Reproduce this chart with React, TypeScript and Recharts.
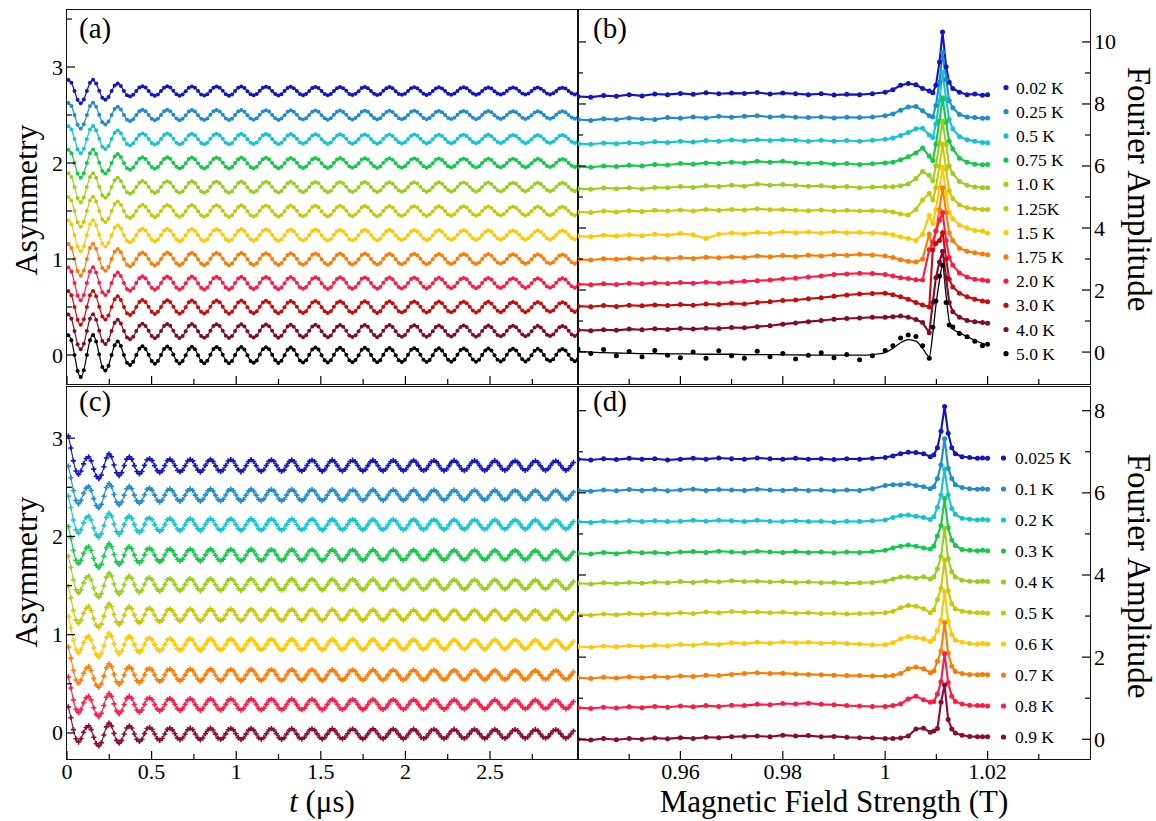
import React from 'react';
import { LineChart, Line, XAxis, YAxis } from 'recharts';

const FONT = '"Liberation Serif", "Times New Roman", Times, serif';
const W = 1156;
const H = 821;

// ---------- data ----------
// time-domain panels: one oscillation shape per panel (read off the 5.0 K / 0.9 K curves),
// each temperature drawn at its own offset and amplitude
const tStartA = 0.008;
const tStepA = 0.01825;
const waveA = [
  2.3, 1.7, 0, -1.84, -2.55, -1.77, 0, 1.7,
  2.33, 1.56, 0.05, -1.38, -1.8, -1.24, 0, 1.13,
  1.55, 1.03, 0, -0.89, -1.15, -0.78, 0, 0.72,
  1.0, 0.71, 0.02, -0.7, -1.0, -0.7, 0, 0.7,
  0.98, 0.72, 0.05, -0.66, -0.97, -0.7, -0.04, 0.68,
  0.96, 0.66, -0.02, -0.7, -0.95, -0.66, 0.03, 0.7,
  0.93, 0.69, 0.04, -0.65, -0.96, -0.7, 0.0, 0.66,
  0.94, 0.64, -0.03, -0.68, -0.9, -0.63, 0.05, 0.67,
  0.9, 0.66, 0.02, -0.62, -0.92, -0.66, -0.02, 0.62,
  0.88, 0.6, 0.03, -0.64, -0.87, -0.6, 0.02, 0.64,
  0.86, 0.63, -0.02, -0.6, -0.88, -0.62, 0.03, 0.6,
  0.85, 0.58, 0.04, -0.62, -0.84, -0.58, -0.03, 0.62,
  0.83, 0.6, 0.0, -0.57, -0.85, -0.6, 0.04, 0.58,
  0.82, 0.56, -0.03, -0.6, -0.8, -0.56, 0.02, 0.6,
  0.79, 0.58, 0.03, -0.55, -0.81, -0.57, -0.02, 0.55,
  0.78, 0.53, 0.0, -0.56, -0.77, -0.53, 0.03, 0.57,
  0.76, 0.56, 0.02, -0.52, -0.78, -0.55, 0.0, 0.53,
  0.75, 0.51, -0.03, -0.54, -0.74, -0.51, 0.02, 0.54,
  0.72, 0.53, 0.03, -0.5, -0.74, -0.52, -0.02, 0.5,
  0.72, 0.49, 0.0, -0.52, -0.7, -0.49, 0.03, 0.52,
  0.7, 0.51, 0.02, -0.48, -0.71, -0.5,
];
const offsetsA = [2.75, 2.5, 2.25, 2.0, 1.75, 1.5, 1.25, 1.0, 0.75, 0.5, 0.25, 0.0];
const ampsA = [0.05, 0.055, 0.058, 0.06, 0.062, 0.064, 0.066, 0.068, 0.07, 0.072, 0.075, 0.09];

const tStartC = 0.008;
const tStepC = 0.015;
const waveC = [
  5.0, 3.0, 0.8, -0.9, -1.5, -0.9, 0.3, 1.2,
  1.5, 0.8, -0.6, -1.8, -2.2, -1.6, -0.2, 1.3,
  2.0, 1.5, 0.1, -1.2, -1.7, -1.2, 0.0, 1.1,
  1.5, 1.1, 0.0, -1.0, -1.4, -1.0, 0.05, 1.0,
  1.2, 0.85, 0.0, -0.85, -1.2, -0.85, 0.0, 0.85,
  1.1, 0.75, 0.03, -0.78, -1.08, -0.76, -0.02, 0.78,
  1.06, 0.8, 0.0, -0.72, -1.1, -0.74, 0.04, 0.74,
  1.08, 0.72, -0.04, -0.77, -1.02, -0.72, 0.02, 0.78,
  1.02, 0.76, 0.03, -0.7, -1.05, -0.75, -0.03, 0.7,
  1.04, 0.7, 0.0, -0.74, -0.98, -0.7, 0.03, 0.74,
  0.98, 0.73, 0.04, -0.68, -1.0, -0.72, 0.0, 0.68,
  1.0, 0.68, -0.03, -0.72, -0.95, -0.66, 0.02, 0.72,
  0.95, 0.7, 0.02, -0.65, -0.97, -0.7, -0.03, 0.66,
  0.97, 0.65, 0.0, -0.7, -0.92, -0.64, 0.03, 0.7,
  0.92, 0.68, 0.03, -0.63, -0.94, -0.67, 0.0, 0.63,
  0.94, 0.63, -0.02, -0.67, -0.9, -0.62, 0.02, 0.67,
  0.9, 0.66, 0.02, -0.6, -0.91, -0.65, -0.02, 0.61,
  0.91, 0.61, 0.0, -0.65, -0.87, -0.6, 0.03, 0.65,
  0.87, 0.64, 0.03, -0.58, -0.88, -0.63, 0.0, 0.59,
  0.88, 0.59, -0.02, -0.62, -0.85, -0.58, 0.02, 0.62,
  0.85, 0.62, 0.02, -0.56, -0.86, -0.6, -0.02, 0.57,
  0.86, 0.57, 0.0, -0.6, -0.82, -0.56, 0.03, 0.6,
  0.82, 0.6, 0.03, -0.55, -0.83, -0.58, 0.0, 0.56,
  0.83, 0.56, -0.02, -0.58, -0.8, -0.55, 0.02, 0.58,
  0.8, 0.58, 0.02, -0.53, -0.81, -0.57, -0.02, 0.54,
];
const offsetsC = [2.72, 2.42, 2.12, 1.81, 1.51, 1.2, 0.9, 0.59, 0.29, -0.01];
const ampsC = [0.06, 0.059, 0.058, 0.058, 0.058, 0.058, 0.057, 0.057, 0.056, 0.055];

// Fourier panels
const fieldB = [
  0.94, 0.9425, 0.945, 0.9475, 0.95, 0.9525, 0.955, 0.9575, 0.96, 0.9625, 0.965, 0.9675,
  0.97, 0.9725, 0.975, 0.9775, 0.98, 0.9825, 0.985, 0.9875, 0.99, 0.9925, 0.995, 0.9975,
  1.0, 1.0015, 1.003, 1.0045, 1.006, 1.0073, 1.0086, 1.0093, 1.0099, 1.0106, 1.0112, 1.0119,
  1.0125, 1.0132, 1.0145, 1.016, 1.0175, 1.019, 1.02,
];
const ampB = [
  [8.24, 8.22, 8.27, 8.25, 8.3, 8.26, 8.32, 8.3, 8.34, 8.31, 8.36, 8.33, 8.35, 8.34, 8.37, 8.32, 8.35, 8.33, 8.3, 8.33, 8.29, 8.31, 8.3, 8.33,
    8.38, 8.46, 8.6, 8.66, 8.62, 8.5, 8.42, 8.36, 8.6, 9.35, 10.32, 9.2, 8.7, 8.5, 8.38, 8.3, 8.32, 8.28, 8.3],
  [7.5, 7.47, 7.52, 7.5, 7.55, 7.52, 7.5, 7.56, 7.54, 7.58, 7.55, 7.6, 7.57, 7.6, 7.62, 7.58, 7.6, 7.57, 7.56, 7.58, 7.55, 7.57, 7.56, 7.58,
    7.62, 7.68, 7.8, 7.9, 7.92, 7.78, 7.62, 7.58, 7.95, 8.7, 9.67, 8.8, 8.1, 7.88, 7.66, 7.58, 7.56, 7.54, 7.55],
  [6.72, 6.7, 6.74, 6.72, 6.75, 6.73, 6.78, 6.76, 6.8, 6.77, 6.82, 6.8, 6.84, 6.81, 6.85, 6.82, 6.85, 6.83, 6.8, 6.83, 6.8, 6.82, 6.8, 6.83,
    6.86, 6.9, 6.98, 7.08, 7.2, 7.22, 7.0, 6.92, 7.35, 8.1, 9.03, 8.15, 7.5, 7.2, 6.95, 6.85, 6.8, 6.76, 6.75],
  [5.98, 5.96, 6.0, 5.98, 6.02, 6.0, 6.05, 6.03, 6.08, 6.06, 6.1, 6.08, 6.12, 6.1, 6.15, 6.12, 6.15, 6.1, 6.08, 6.1, 6.06, 6.08, 6.05, 6.07,
    6.1, 6.12, 6.2, 6.3, 6.42, 6.58, 6.32, 6.18, 6.7, 7.45, 8.2, 7.4, 6.8, 6.55, 6.25, 6.12, 6.06, 6.04, 6.05],
  [5.27, 5.25, 5.29, 5.27, 5.3, 5.26, 5.31, 5.3, 5.34, 5.31, 5.36, 5.34, 5.38, 5.35, 5.42, 5.38, 5.4, 5.37, 5.35, 5.36, 5.32, 5.34, 5.3, 5.32,
    5.33, 5.33, 5.36, 5.42, 5.6, 5.82, 5.7, 5.52, 6.0, 6.75, 7.45, 6.7, 6.0, 5.75, 5.5, 5.38, 5.32, 5.3, 5.3],
  [4.52, 4.5, 4.55, 4.52, 4.56, 4.53, 4.57, 4.55, 4.58, 4.55, 4.6, 4.57, 4.6, 4.58, 4.62, 4.59, 4.6, 4.57, 4.56, 4.58, 4.55, 4.57, 4.55, 4.56,
    4.55, 4.52, 4.45, 4.42, 4.6, 4.9, 5.12, 4.9, 5.3, 6.0, 6.7, 5.9, 5.2, 4.95, 4.75, 4.65, 4.62, 4.6, 4.6],
  [3.74, 3.72, 3.77, 3.74, 3.78, 3.75, 3.8, 3.77, 3.82, 3.78, 3.66, 3.8, 3.84, 3.81, 3.86, 3.83, 3.88, 3.85, 3.87, 3.84, 3.88, 3.85, 3.86, 3.84,
    3.82, 3.78, 3.72, 3.66, 3.6, 3.8, 4.4, 4.15, 4.6, 5.3, 5.95, 5.1, 4.5, 4.3, 4.1, 4.0, 3.92, 3.9, 3.83],
  [2.99, 2.97, 3.01, 2.99, 3.02, 3.0, 3.04, 3.01, 3.05, 3.02, 3.06, 3.04, 3.07, 3.05, 3.1, 3.07, 3.11, 3.08, 3.12, 3.1, 3.14, 3.12, 3.15, 3.13,
    3.1, 3.05, 2.98, 2.93, 2.9, 3.0, 3.8, 3.35, 3.9, 4.6, 5.3, 4.5, 3.85, 3.6, 3.35, 3.25, 3.2, 3.16, 3.14],
  [2.19, 2.17, 2.2, 2.18, 2.22, 2.2, 2.23, 2.21, 2.24, 2.22, 2.25, 2.23, 2.26, 2.28, 2.3, 2.32, 2.36, 2.38, 2.42, 2.45, 2.5, 2.52, 2.54, 2.53,
    2.5, 2.45, 2.4, 2.37, 2.33, 2.32, 3.3, 3.55, 3.9, 4.25, 4.5, 3.6, 3.05, 2.8, 2.55, 2.42, 2.35, 2.32, 2.3],
  [1.48, 1.46, 1.5, 1.47, 1.51, 1.49, 1.52, 1.5, 1.53, 1.51, 1.55, 1.53, 1.57, 1.55, 1.6, 1.62, 1.66, 1.68, 1.72, 1.75, 1.8, 1.84, 1.87, 1.89,
    1.9, 1.85, 1.78, 1.7, 1.6, 1.52, 1.45, 3.3, 3.5, 3.6, 3.85, 3.0, 2.35, 2.1, 1.9, 1.78, 1.7, 1.65, 1.62],
  [0.71, 0.69, 0.72, 0.7, 0.74, 0.72, 0.75, 0.73, 0.76, 0.74, 0.77, 0.76, 0.79, 0.78, 0.82, 0.85, 0.9, 0.94, 0.98, 1.02, 1.06, 1.08, 1.1, 1.12,
    1.12, 1.14, 1.16, 1.12, 1.05, 0.95, 0.62, 1.6, 2.4, 2.9, 3.25, 2.4, 1.6, 1.3, 1.12, 1.02, 0.98, 0.95, 0.93],
];
const dots5K = [
  0.1, -0.05, 0.08, -0.12, 0.02, -0.15, 0.05, -0.1, -0.18, 0.0, -0.2, 0.04, -0.12, -0.2, 0.03, -0.15, -0.05, -0.22, -0.1, -0.02, -0.18, -0.08, -0.25, -0.12,
  0.05, 0.2, 0.45, 0.55, 0.5, 0.2, -0.2, 0.8, 1.65, 2.45, 2.8, 1.6, 0.87, 0.81, 0.6, 0.49, 0.35, 0.2, 0.25,
];
const fit5K = [
  0.02, 0.0, -0.02, -0.03, -0.04, -0.05, -0.05, -0.06, -0.06, -0.06, -0.07, -0.07, -0.07, -0.08, -0.08, -0.08, -0.09, -0.09, -0.1, -0.1, -0.1, -0.1, -0.1, -0.08,
  -0.02, 0.12, 0.3, 0.4, 0.35, 0.12, -0.15, 0.6, 1.5, 2.3, 2.8, 1.8, 1.0, 0.75, 0.62, 0.5, 0.38, 0.28, 0.22,
];

const fieldD = [
  0.94, 0.9425, 0.945, 0.9475, 0.95, 0.9525, 0.955, 0.9575, 0.96, 0.9625, 0.965, 0.9675,
  0.97, 0.9725, 0.975, 0.9775, 0.98, 0.9825, 0.985, 0.9875, 0.99, 0.9925, 0.995, 0.9975,
  1.0, 1.0015, 1.003, 1.0045, 1.006, 1.0075, 1.0088, 1.0095, 1.0102, 1.0109, 1.0116, 1.0123,
  1.013, 1.0137, 1.015, 1.0165, 1.018, 1.019, 1.02,
];
const ampD = [
  [6.82, 6.8, 6.83, 6.81, 6.84, 6.82, 6.83, 6.8, 6.82, 6.84, 6.82, 6.85, 6.83, 6.82, 6.85, 6.83, 6.82, 6.84, 6.82, 6.83, 6.81, 6.83, 6.82, 6.84,
    6.86, 6.9, 6.95, 6.99, 6.98, 6.95, 6.88, 6.92, 7.1, 7.5, 8.1, 7.45, 7.1, 6.95, 6.88, 6.86, 6.84, 6.85, 6.84],
  [6.06, 6.04, 6.07, 6.05, 6.08, 6.06, 6.08, 6.05, 6.07, 6.09, 6.06, 6.08, 6.07, 6.06, 6.09, 6.07, 6.06, 6.08, 6.06, 6.07, 6.05, 6.07, 6.06, 6.1,
    6.18, 6.2, 6.2, 6.22, 6.18, 6.15, 6.1, 6.15, 6.35, 6.68, 7.32, 6.6, 6.35, 6.2, 6.13, 6.1, 6.09, 6.1, 6.09],
  [5.3, 5.28, 5.31, 5.29, 5.32, 5.3, 5.32, 5.3, 5.31, 5.33, 5.31, 5.33, 5.32, 5.3, 5.33, 5.31, 5.3, 5.32, 5.3, 5.31, 5.29, 5.31, 5.3, 5.32,
    5.34, 5.4, 5.45, 5.46, 5.43, 5.4, 5.35, 5.42, 5.65, 5.95, 6.58, 5.95, 5.62, 5.48, 5.38, 5.36, 5.34, 5.35, 5.34],
  [4.53, 4.51, 4.55, 4.52, 4.56, 4.54, 4.55, 4.53, 4.56, 4.57, 4.55, 4.58, 4.56, 4.55, 4.58, 4.56, 4.55, 4.57, 4.55, 4.56, 4.54, 4.56, 4.55, 4.57,
    4.6, 4.66, 4.7, 4.73, 4.7, 4.66, 4.63, 4.7, 4.95, 5.2, 5.86, 5.15, 4.85, 4.72, 4.62, 4.6, 4.59, 4.6, 4.59],
  [3.8, 3.78, 3.81, 3.79, 3.82, 3.8, 3.83, 3.81, 3.84, 3.82, 3.85, 3.83, 3.86, 3.84, 3.85, 3.83, 3.84, 3.82, 3.83, 3.81, 3.82, 3.8, 3.81, 3.82,
    3.85, 3.9, 3.95, 3.96, 3.92, 3.96, 3.9, 3.95, 4.15, 4.45, 5.13, 4.4, 4.08, 3.95, 3.87, 3.85, 3.84, 3.85, 3.84],
  [3.04, 3.02, 3.05, 3.03, 3.06, 3.04, 3.07, 3.05, 3.08, 3.06, 3.1, 3.08, 3.11, 3.09, 3.1, 3.08, 3.09, 3.07, 3.08, 3.06, 3.07, 3.05, 3.06, 3.07,
    3.08, 3.12, 3.2, 3.26, 3.24, 3.18, 3.08, 3.15, 3.4, 3.68, 4.36, 3.62, 3.3, 3.18, 3.12, 3.09, 3.08, 3.08, 3.07],
  [2.26, 2.24, 2.27, 2.25, 2.28, 2.26, 2.29, 2.27, 2.31, 2.29, 2.33, 2.31, 2.35, 2.33, 2.36, 2.34, 2.37, 2.35, 2.36, 2.34, 2.35, 2.33, 2.32, 2.3,
    2.3, 2.35, 2.45, 2.5, 2.48, 2.45, 2.38, 2.45, 2.65, 2.9, 3.6, 2.88, 2.55, 2.42, 2.36, 2.33, 2.32, 2.33, 2.32],
  [1.5, 1.48, 1.51, 1.49, 1.52, 1.5, 1.53, 1.51, 1.54, 1.53, 1.56, 1.55, 1.58, 1.6, 1.62, 1.6, 1.61, 1.59, 1.58, 1.57, 1.56, 1.55, 1.55, 1.54,
    1.54, 1.55, 1.6, 1.72, 1.76, 1.72, 1.62, 1.66, 1.9, 2.15, 2.84, 2.1, 1.78, 1.65, 1.6, 1.58, 1.57, 1.58, 1.57],
  [0.77, 0.75, 0.78, 0.76, 0.79, 0.77, 0.8, 0.78, 0.81, 0.79, 0.82, 0.8, 0.83, 0.82, 0.85, 0.84, 0.87, 0.86, 0.88, 0.85, 0.84, 0.82, 0.81, 0.8,
    0.8, 0.82, 0.86, 0.98, 1.05, 0.96, 0.9, 0.92, 1.1, 1.4, 2.08, 1.38, 1.05, 0.92, 0.86, 0.83, 0.82, 0.82, 0.81],
  [0.0, -0.02, 0.02, -0.01, 0.02, 0.0, 0.03, 0.01, 0.04, 0.02, 0.05, 0.04, 0.06, 0.07, 0.08, 0.06, 0.1, 0.08, 0.09, 0.06, 0.07, 0.05, 0.04, 0.03,
    0.02, 0.02, 0.03, 0.08, 0.25, 0.27, 0.17, 0.2, 0.26, 0.9, 1.32, 0.48, 0.25, 0.15, 0.1, 0.07, 0.06, 0.06, 0.06],
];

const tempsB = ['0.02 K', '0.25 K', '0.5 K', '0.75 K', '1.0 K', '1.25K', '1.5 K', '1.75 K', '2.0 K', '3.0 K', '4.0 K', '5.0 K'];
const tempsD = ['0.025 K', '0.1 K', '0.2 K', '0.3 K', '0.4 K', '0.5 K', '0.6 K', '0.7 K', '0.8 K', '0.9 K'];

const timeTicks = [0, 0.25, 0.5, 0.75, 1, 1.25, 1.5, 1.75, 2, 2.25, 2.5, 2.75];
const timeMajor = [0, 0.5, 1, 1.5, 2, 2.5];
const fieldTicks = [0.95, 0.96, 0.97, 0.98, 0.99, 1, 1.01, 1.02, 1.03];
const fieldMajor = [0.96, 0.98, 1, 1.02];
const asymTicksA = [0, 0.5, 1, 1.5, 2, 2.5, 3, 3.5];
const asymTicksC = [0, 0.5, 1, 1.5, 2, 2.5, 3];
const asymMajor = [0, 1, 2, 3];
const fourTicksB = [0, 1, 2, 3, 4, 5, 6, 7, 8, 9, 10];
const fourMajorB = [0, 2, 4, 6, 8, 10];
const fourTicksD = [0, 1, 2, 3, 4, 5, 6, 7, 8];
const fourMajorD = [0, 2, 4, 6, 8];

// ---------- styling ----------
const coloursB = ['#1414c3', '#1e8ccd', '#14c4d0', '#14c84a', '#9ccd1e', '#c8c80a', '#ffc800', '#ff7a00', '#ff1a46', '#c80a0a', '#820a2a', '#000000'];
const coloursD = ['#1414c3', '#1e8ccd', '#14c4d0', '#14c84a', '#9ccd1e', '#c8c80a', '#ffc800', '#ff7a00', '#ff1a46', '#8c0a32'];

const RECT_A = { x: 67, y: 10, w: 511, h: 374 };
const RECT_B = { x: 578, y: 10, w: 512, h: 374 };
const RECT_C = { x: 67, y: 387, w: 511, h: 372 };
const RECT_D = { x: 578, y: 387, w: 512, h: 372 };

type Rect = { x: number; y: number; w: number; h: number };
type Row = Record<string, number>;

const rowsA: Row[] = waveA.map((w, k) => {
  const row: Row = { t: tStartA + k * tStepA };
  offsetsA.forEach((o, i) => { row[`s${i}`] = o + ampsA[i] * w; });
  return row;
});
const rowsC: Row[] = waveC.map((w, k) => {
  const row: Row = { t: tStartC + k * tStepC };
  offsetsC.forEach((o, i) => { row[`s${i}`] = o + ampsC[i] * w; });
  return row;
});
const rowsB: Row[] = fieldB.map((f, k) => {
  const row: Row = { f, dots: dots5K[k], fit: fit5K[k] };
  ampB.forEach((s, i) => { row[`s${i}`] = s[k]; });
  return row;
});
const rowsD: Row[] = fieldD.map((f, k) => {
  const row: Row = { f };
  ampD.forEach((s, i) => { row[`s${i}`] = s[k]; });
  return row;
});

const near = (list: number[], v: number) => list.some((m) => Math.abs(m - v) < 1e-6);
const TICK_FONT = 22;

function bottomTick(major: number[], labelled: boolean) {
  return (p: any) => {
    const v = p.payload.value;
    const isMajor = near(major, v);
    return (
      <g>
        <line x1={p.x} x2={p.x} y1={p.y} y2={p.y - (isMajor ? 8 : 5)} stroke="#000" strokeWidth={1.2} />
        {labelled && isMajor && (
          <text x={p.x} y={p.y + 20} textAnchor="middle" fontSize={TICK_FONT} fontFamily={FONT} fill="#000">
            {String(v)}
          </text>
        )}
      </g>
    );
  };
}

function leftTick(major: number[]) {
  return (p: any) => {
    const v = p.payload.value;
    const isMajor = near(major, v);
    return (
      <g>
        <line x1={p.x} x2={p.x + (isMajor ? 8 : 5)} y1={p.y} y2={p.y} stroke="#000" strokeWidth={1.2} />
        {isMajor && (
          <text x={p.x - 4} y={p.y + 7.5} textAnchor="end" fontSize={TICK_FONT} fontFamily={FONT} fill="#000">
            {String(v)}
          </text>
        )}
      </g>
    );
  };
}

function rightTick(major: number[], width: number) {
  return (p: any) => {
    const v = p.payload.value;
    const isMajor = near(major, v);
    const len = isMajor ? 8 : 5;
    const lx = p.x - width;
    return (
      <g>
        <line x1={p.x} x2={p.x - len} y1={p.y} y2={p.y} stroke="#000" strokeWidth={1.2} />
        <line x1={lx} x2={lx + len} y1={p.y} y2={p.y} stroke="#000" strokeWidth={1.2} />
        {isMajor && (
          <text x={p.x + 4} y={p.y + 7.5} textAnchor="start" fontSize={TICK_FONT} fontFamily={FONT} fill="#000">
            {String(v)}
          </text>
        )}
      </g>
    );
  };
}

type PanelProps = {
  rect: Rect;
  rows: Row[];
  xKey: string;
  xDomain: [number, number];
  xTicks: number[];
  xMajor: number[];
  xLabelled: boolean;
  yDomain: [number, number];
  yTicks: number[];
  yMajor: number[];
  side: 'left' | 'right';
  children: React.ReactNode;
};

function Panel({ rect, rows, xKey, xDomain, xTicks, xMajor, xLabelled, yDomain, yTicks, yMajor, side, children }: PanelProps) {
  const margin =
    side === 'left'
      ? { top: rect.y, left: rect.x - 1, right: W - rect.x - rect.w, bottom: H - rect.y - rect.h - 1 }
      : { top: rect.y, left: rect.x, right: W - rect.x - rect.w - 1, bottom: H - rect.y - rect.h - 1 };
  return (
    <div style={{ position: 'absolute', left: 0, top: 0, width: W, height: H }}>
      <LineChart width={W} height={H} data={rows} margin={margin}>
        <XAxis
          type="number"
          dataKey={xKey}
          domain={xDomain}
          allowDataOverflow
          ticks={xTicks}
          interval={0}
          height={1}
          tickSize={0}
          tickMargin={0}
          axisLine={false}
          tickLine={false}
          tick={bottomTick(xMajor, xLabelled)}
        />
        <YAxis
          type="number"
          orientation={side}
          domain={yDomain}
          allowDataOverflow
          ticks={yTicks}
          interval={0}
          width={1}
          tickSize={0}
          tickMargin={0}
          axisLine={false}
          tickLine={false}
          tick={side === 'left' ? leftTick(yMajor) : rightTick(yMajor, rect.w)}
        />
        {children}
      </LineChart>
      <div
        style={{
          position: 'absolute',
          left: rect.x - 1,
          top: rect.y - 1,
          width: rect.w + 2,
          height: rect.h + 2,
          border: '1.5px solid #111',
          boxSizing: 'border-box',
          pointerEvents: 'none',
        }}
      />
    </div>
  );
}

const crossDot = (colour: string) => (p: any) => (
  <path
    key={`x${p.index}`}
    d={`M${p.cx - 2.6},${p.cy}h5.2M${p.cx},${p.cy - 2.6}v5.2`}
    stroke={colour}
    strokeWidth={1.6}
    fill="none"
  />
);

export default function App() {
  return (
    <div style={{ position: 'absolute', left: 0, top: 0, width: W, height: H, background: '#fff', overflow: 'hidden' }}>
      <Panel rect={RECT_A} rows={rowsA} xKey="t" xDomain={[0, 3.02]} xTicks={timeTicks} xMajor={timeMajor} xLabelled={false}
        yDomain={[-0.302, 3.594]} yTicks={asymTicksA} yMajor={asymMajor} side="left">
        {offsetsA.map((_, i) => (
          <Line key={i} dataKey={`s${i}`} type="monotone" stroke={coloursB[i]} strokeWidth={1.2}
            dot={{ r: 2, fill: coloursB[i], stroke: coloursB[i], strokeWidth: 0 }} isAnimationActive={false} />
        ))}
      </Panel>

      <Panel rect={RECT_B} rows={rowsB} xKey="f" xDomain={[0.94, 1.04]} xTicks={fieldTicks} xMajor={fieldMajor} xLabelled={false}
        yDomain={[-1.03, 11.03]} yTicks={fourTicksB} yMajor={fourMajorB} side="right">
        {ampB.map((_, i) => (
          <Line key={i} dataKey={`s${i}`} type="linear" stroke={coloursB[i]} strokeWidth={2.1}
            dot={{ r: 2.5, fill: coloursB[i], stroke: coloursB[i], strokeWidth: 0 }} isAnimationActive={false} />
        ))}
        <Line dataKey="fit" type="monotone" stroke="#000" strokeWidth={1.3} dot={false} isAnimationActive={false} />
        <Line dataKey="dots" stroke="none" strokeWidth={0} dot={{ r: 2.5, fill: '#000', stroke: '#000', strokeWidth: 0 }} isAnimationActive={false} />
      </Panel>

      <Panel rect={RECT_C} rows={rowsC} xKey="t" xDomain={[0, 3.02]} xTicks={timeTicks} xMajor={timeMajor} xLabelled
        yDomain={[-0.265, 3.52]} yTicks={asymTicksC} yMajor={asymMajor} side="left">
        {offsetsC.map((_, i) => (
          <Line key={i} dataKey={`s${i}`} type="monotone" stroke={coloursD[i]} strokeWidth={1.1}
            dot={crossDot(coloursD[i])} isAnimationActive={false} />
        ))}
      </Panel>

      <Panel rect={RECT_D} rows={rowsD} xKey="f" xDomain={[0.94, 1.04]} xTicks={fieldTicks} xMajor={fieldMajor} xLabelled
        yDomain={[-0.48, 8.577]} yTicks={fourTicksD} yMajor={fourMajorD} side="right">
        {ampD.map((_, i) => (
          <Line key={i} dataKey={`s${i}`} type="linear" stroke={coloursD[i]} strokeWidth={2.1}
            dot={{ r: 2.5, fill: coloursD[i], stroke: coloursD[i], strokeWidth: 0 }} isAnimationActive={false} />
        ))}
      </Panel>

      <svg width={W} height={H} style={{ position: 'absolute', left: 0, top: 0, pointerEvents: 'none' }} fontFamily={FONT}>
        <text x={79} y={38} fontSize={29}>(a)</text>
        <text x={593} y={38} fontSize={29}>(b)</text>
        <text x={79} y={411} fontSize={29}>(c)</text>
        <text x={593} y={411} fontSize={29}>(d)</text>

        <text transform="translate(37,200) rotate(-90)" textAnchor="middle" fontSize={32}>Asymmetry</text>
        <text transform="translate(37,572) rotate(-90)" textAnchor="middle" fontSize={32}>Asymmetry</text>
        <text transform="translate(1128,189) rotate(90)" textAnchor="middle" fontSize={33}>Fourier Amplitude</text>
        <text transform="translate(1128,576) rotate(90)" textAnchor="middle" fontSize={33}>Fourier Amplitude</text>

        <text x={322} y={812} textAnchor="middle" fontSize={31}>
          <tspan fontStyle="italic">t</tspan> (μs)
        </text>
        <text x={834} y={812} textAnchor="middle" fontSize={31}>Magnetic Field Strength (T)</text>

        {tempsB.map((t, i) => (
          <g key={t}>
            <circle cx={1006} cy={87.5 + i * 24.2} r={2.6} fill={coloursB[i]} />
            <text x={1016} y={87.5 + i * 24.2} dominantBaseline="central" fontSize={17.5}>{t}</text>
          </g>
        ))}
        {tempsD.map((t, i) => (
          <g key={t}>
            <circle cx={1003.5} cy={458 + i * 31} r={2.6} fill={coloursD[i]} />
            <text x={1015} y={458 + i * 31} dominantBaseline="central" fontSize={17.5}>{t}</text>
          </g>
        ))}
      </svg>
    </div>
  );
}
